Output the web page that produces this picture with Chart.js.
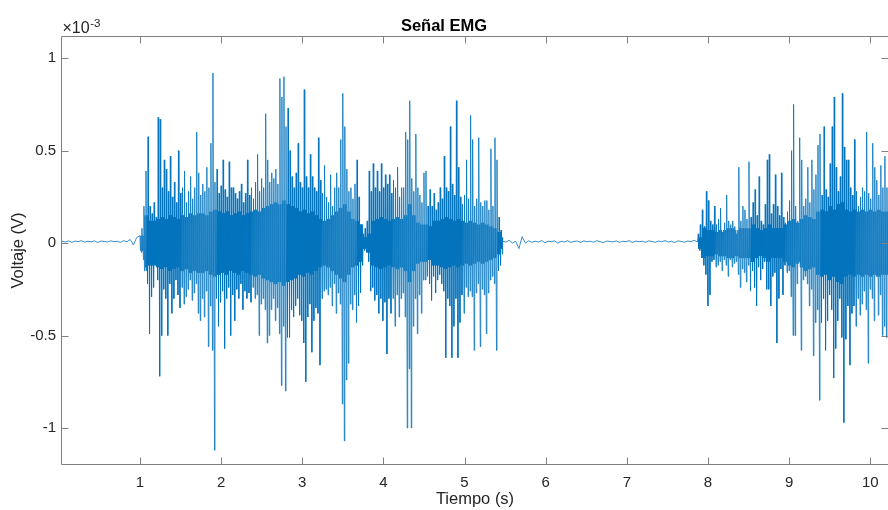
<!DOCTYPE html>
<html><head><meta charset="utf-8">
<script src="https://cdn.jsdelivr.net/npm/chart.js@4.4.0/dist/chart.umd.min.js"></script>
<style>html,body{margin:0;padding:0;background:#fff}#wrap{width:888px;height:510px}</style>
</head><body><div id="wrap"><canvas id="c" width="888" height="510"></canvas></div>
<script>
// Values in units of 1e-3 V (axis shows x10^-3). Times in seconds.
const xTicks = [1,2,3,4,5,6,7,8,9,10];
const yTicks = [-1,-0.5,0,0.5,1];

// Quiet baseline before the first burst: t = 0.04 .. 0.96, every 0.04 s
const quietStartT0 = 0.04, quietStartDt = 0.04;
const quietStart = [0.01,0.006,0.012,0.004,0.011,0.008,0.013,0.005,0.01,0.007,0.012,0.003,
  0.011,0.009,0.006,0.012,0.008,0.01,0.004,0.013,0.007,0.02,-0.01,0.03];

// First burst: t = 1.00 .. 5.45, every 0.025 s (largest excursion up, small
// oscillation, largest excursion down)
const burstAT0 = 1.0, burstADt = 0.025;
const burstAPeaks = [
  .04,.08,.2,.39,.575,.2,.16,.22,.14,.68,
  .67,.3,.45,.4,.28,.47,.25,.33,.22,.5,
  .27,.3,.39,.22,.28,.36,.24,.3,.6,.38,
  .26,.32,.28,.41,.3,.54,.92,.33,.4,.27,
  .31,.45,.29,.25,.44,.3,.3,.27,.24,.28,
  .32,.22,.27,.45,.26,.3,.24,.33,.48,.28,
  .35,.3,.7,.45,.33,.38,.35,.4,.32,.89,
  .79,.9,.63,.73,.5,.36,.3,.38,.54,.33,
  .3,.83,.36,.3,.48,.36,.3,.28,.57,.34,
  .27,.42,.25,.22,.37,.2,.3,.38,.3,.56,
  .81,.63,.4,.28,.3,.24,.32,.45,.25,.1,
  .05,.08,.12,.39,.28,.43,.3,.39,.28,.43,
  .3,.37,.32,.37,.27,.34,.3,.41,.25,.3,
  .3,.6,.56,.77,.35,.28,.59,.3,.26,.22,
  .38,.39,.2,.29,.2,.27,.18,.22,.3,.24,
  .47,.3,.28,.63,.32,.26,.77,.41,.25,.21,
  .26,.45,.24,.69,.56,.2,.24,.57,.22,.2,
  .23,.23,.18,.51,.2,.57,.45,.14,.07];
const burstATroughs = [
  -.05,-.09,-.13,-.22,-.49,-.29,-.24,-.12,-.2,-.72,
  -.5,-.25,-.3,-.5,-.22,-.38,-.3,-.2,-.28,-.35,
  -.24,-.33,-.29,-.25,-.2,-.31,-.27,-.22,-.38,-.42,
  -.3,-.4,-.26,-.56,-.34,-.58,-1.12,-.3,-.45,-.32,
  -.26,-.57,-.3,-.24,-.5,-.28,-.42,-.25,-.3,-.22,
  -.36,-.26,-.3,-.27,-.32,-.24,-.3,-.28,-.5,-.33,
  -.3,-.36,-.54,-.5,-.36,-.3,-.42,-.35,-.49,-.77,
  -.45,-.8,-.51,-.51,-.36,-.4,-.34,-.3,-.39,-.42,
  -.54,-.75,-.4,-.33,-.59,-.42,-.35,-.38,-.66,-.3,
  -.26,-.25,-.28,-.24,-.34,-.22,-.38,-.27,-.33,-.87,
  -1.07,-.74,-.65,-.33,-.36,-.28,-.43,-.34,-.27,-.12,
  -.04,-.05,-.1,-.26,-.24,-.31,-.28,-.38,-.3,-.42,
  -.32,-.6,-.3,-.38,-.3,-.45,-.28,-.4,-.3,-.27,
  -.4,-1.0,-.68,-1.0,-.45,-.3,-.49,-.28,-.38,-.2,
  -.2,-.18,-.22,-.31,-.18,-.27,-.2,-.17,-.22,-.26,
  -.62,-.3,-.34,-.62,-.45,-.3,-.62,-.43,-.28,-.38,
  -.24,-.29,-.26,-.29,-.58,-.27,-.22,-.56,-.25,-.28,
  -.49,-.27,-.2,-.18,-.22,-.58,-.15,-.12,-.06];
// Amplitude of the dense core oscillation, one value per 0.05 s
const burstACore = [
  .04,.15,.12,.12,.13,.14,.13,.15,.14,.13,
  .15,.14,.16,.15,.16,.16,.15,.17,.18,.17,
  .16,.17,.15,.16,.17,.15,.16,.17,.18,.17,
  .19,.2,.21,.22,.21,.23,.21,.2,.19,.17,
  .18,.16,.17,.15,.13,.12,.13,.15,.17,.19,
  .21,.17,.13,.12,.1,.03,.05,.12,.13,.14,
  .13,.12,.13,.14,.13,.15,.21,.15,.11,.1,
  .1,.09,.12,.12,.13,.14,.13,.12,.13,.12,
  .11,.12,.11,.1,.11,.1,.09,.08,.06,.03];

// Quiet baseline between bursts: t = 5.47 .. 7.87, every 0.04 s
const quietMidT0 = 5.47, quietMidDt = 0.04;
const quietMid = [0.01,0.005,0.015,0.0,0.01,-0.03,0.035,0.0,0.012,0.004,
  0.01,0.006,0.014,0.002,0.01,0.008,0.012,0.0,0.01,0.006,
  0.013,0.004,0.009,0.011,0.003,0.012,0.007,0.01,0.005,0.013,
  0.008,0.002,0.011,0.009,0.006,0.012,0.004,0.01,0.008,0.013,
  0.003,0.011,0.007,0.01,0.005,0.012,0.009,0.004,0.011,0.008,
  0.013,0.006,0.01,0.003,0.012,0.009,0.005,0.011,0.008,0.015,0.006];

// Second burst: t = 7.88 .. 10.205, every 0.025 s
const burstBT0 = 7.88, burstBDt = 0.025;
const burstBPeaks = [
  .05,.1,.18,.09,.28,.23,.12,.1,.2,.1,
  .13,.19,.06,.11,.26,.12,.1,.12,.09,.05,
  .41,.12,.2,.18,.13,.44,.14,.22,.29,.15,
  .36,.12,.1,.21,.45,.48,.16,.21,.37,.2,
  .15,.38,.14,.11,.17,.23,.5,.75,.2,.12,
  .57,.45,.2,.24,.41,.22,.45,.29,.37,.53,
  .59,.26,.63,.29,.25,.43,.63,.79,.41,.28,
  .36,.81,.52,.45,.45,.3,.26,.56,.28,.2,
  .25,.3,.28,.6,.27,.24,.54,.41,.34,.26,
  .42,.3,.47,.3];
const burstBTroughs = [
  -.04,-.08,-.12,-.17,-.34,-.28,-.1,-.09,-.13,-.12,
  -.1,-.15,-.09,-.12,-.18,-.09,-.13,-.11,-.1,-.17,
  -.24,-.14,-.16,-.21,-.12,-.26,-.15,-.24,-.34,-.13,
  -.2,-.14,-.1,-.25,-.25,-.34,-.18,-.16,-.54,-.3,
  -.14,-.28,-.12,-.16,-.15,-.29,-.5,-.5,-.22,-.1,
  -.58,-.2,-.18,-.22,-.34,-.25,-.61,-.43,-.36,-.85,
  -.43,-.3,-.58,-.42,-.28,-.36,-.73,-.57,-.42,-.3,
  -.51,-.97,-.52,-.34,-.66,-.38,-.34,-.45,-.3,-.39,
  -.33,-.26,-.36,-.65,-.25,-.3,-.42,-.18,-.39,-.28,
  -.5,-.45,-.51,-.35];
const burstBCore = [
  .03,.08,.07,.07,.06,.07,.07,.08,.08,.07,
  .08,.08,.08,.1,.08,.07,.08,.1,.08,.08,
  .08,.1,.12,.13,.11,.13,.15,.14,.13,.17,
  .18,.17,.2,.18,.21,.22,.18,.17,.18,.17,
  .18,.17,.18,.17,.18,.17,.17];

const points = [];
function addQuiet(t0, dt, vals){ vals.forEach((v,k)=>points.push({x:t0+k*dt, y:v})); }
function addBurst(t0, dt, peaks, troughs, core){
  peaks.forEach((p,k)=>{
    const t = t0 + k*dt, c = core[Math.floor(k/2)];
    points.push({x:t, y:p});
    points.push({x:t + dt*0.25, y:-c});
    points.push({x:t + dt*0.5, y:c});
    points.push({x:t + dt*0.75, y:troughs[k]});
  });
}
addQuiet(quietStartT0, quietStartDt, quietStart);
addBurst(burstAT0, burstADt, burstAPeaks, burstATroughs, burstACore);
addQuiet(quietMidT0, quietMidDt, quietMid);
addBurst(burstBT0, burstBDt, burstBPeaks, burstBTroughs, burstBCore);

const FONT = '"Liberation Sans", Arial, Helvetica, sans-serif';
const AXIS_COLOR = '#808080';
const TEXT_COLOR = '#262626';

const boxPlugin = {
  id: 'matlabBox',
  afterDraw(chart){
    const {ctx, chartArea:a, scales:{x, y}} = chart;
    const L = Math.round(a.left) - 0.5, R = Math.round(a.right) + 0.5;
    const T = Math.round(a.top) + 0.5, B = Math.round(a.bottom) - 0.5;
    const tl = 7;
    ctx.save();
    ctx.strokeStyle = AXIS_COLOR; ctx.lineWidth = 1;
    ctx.beginPath();
    ctx.moveTo(L, T); ctx.lineTo(R, T);
    ctx.moveTo(L, B); ctx.lineTo(R, B);
    ctx.moveTo(L, T); ctx.lineTo(L, B);
    ctx.moveTo(R, T); ctx.lineTo(R, B);
    x.ticks.forEach(t => {
      const px = Math.round(x.getPixelForValue(t.value)) + 0.5;
      ctx.moveTo(px, B); ctx.lineTo(px, B - tl);
      ctx.moveTo(px, T); ctx.lineTo(px, T + tl);
    });
    y.ticks.forEach(t => {
      const py = Math.round(y.getPixelForValue(t.value)) + 0.5;
      ctx.moveTo(L, py); ctx.lineTo(L + tl, py);
      ctx.moveTo(R, py); ctx.lineTo(R - tl, py);
    });
    ctx.stroke();
    // exponent label
    ctx.fillStyle = TEXT_COLOR;
    ctx.textBaseline = 'alphabetic';
    ctx.textAlign = 'left';
    ctx.font = '16px ' + FONT;
    const base = '\u00D710';
    ctx.fillText(base, Math.round(a.left) + 0.5, 33);
    const w = ctx.measureText(base).width;
    ctx.font = '11.5px ' + FONT;
    ctx.fillText('-3', Math.round(a.left) + 0.5 + w + 0.5, 27);
    ctx.restore();
  }
};

new Chart(document.getElementById('c').getContext('2d'), {
  type: 'line',
  data: { datasets: [{ data: points, borderColor: '#0072BD', borderWidth: 0.8,
    pointRadius: 0, tension: 0, fill: false }] },
  options: {
    responsive: false, animation: false, events: [],
    layout: { padding: { left: 0, right: 0, top: 0, bottom: 0 } },
    plugins: {
      legend: { display: false }, tooltip: { enabled: false },
      title: { display: true, text: 'Señal EMG', color: '#000',
        font: { family: FONT, size: 16.5, weight: 'bold', lineHeight: 1.15 }, padding: { top: 17, bottom: 0 } }
    },
    scales: {
      x: { type: 'linear', min: 0.04, max: 10.218,
        afterBuildTicks: s => { s.ticks = xTicks.map(v => ({ value: v })); },
        grid: { display: false, drawTicks: false }, border: { display: false },
        ticks: { color: TEXT_COLOR, font: { family: FONT, size: 15 }, padding: 9,
          maxRotation: 0, autoSkip: false, callback: v => String(v) },
        title: { display: true, text: 'Tiempo (s)', color: TEXT_COLOR,
          font: { family: FONT, size: 16.5 }, padding: { top: 0, bottom: 1 } },
        afterFit: s => { s.height = 45; } },
      y: { type: 'linear', min: -1.2, max: 1.12,
        afterBuildTicks: s => { s.ticks = yTicks.map(v => ({ value: v })); },
        grid: { display: false, drawTicks: false }, border: { display: false },
        ticks: { color: TEXT_COLOR, font: { family: FONT, size: 15 }, padding: 6,
          callback: v => String(v) },
        title: { display: true, text: 'Voltaje (V)', color: TEXT_COLOR,
          font: { family: FONT, size: 16.5 }, padding: { top: 9, bottom: 0 } },
        afterFit: s => { s.width = 62; } }
    }
  },
  plugins: [boxPlugin]
});
</script>
</body></html>
